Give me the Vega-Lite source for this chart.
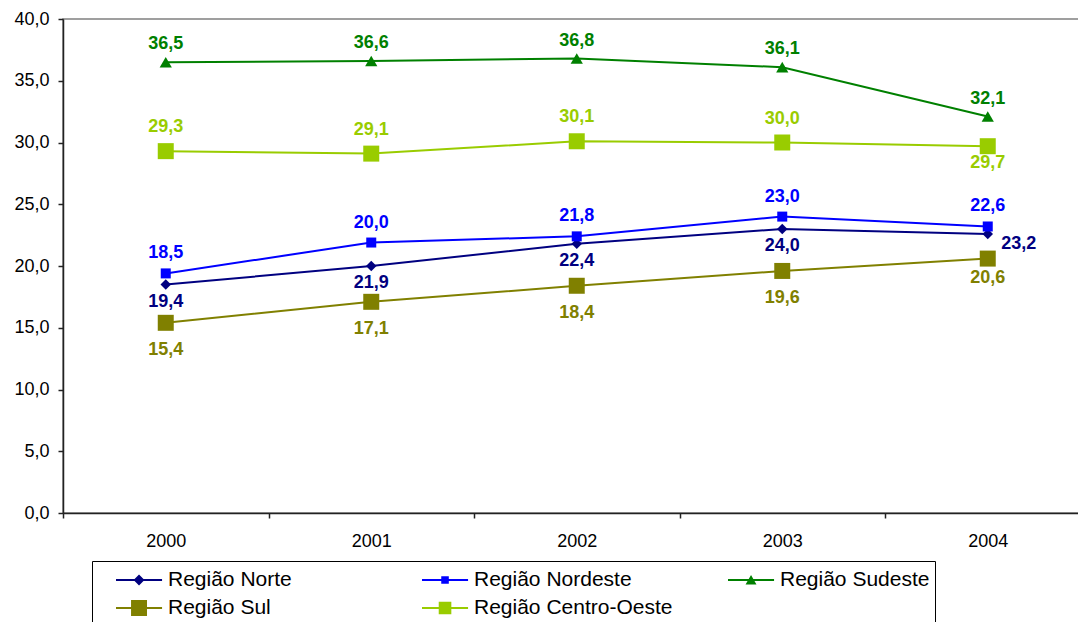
{
  "$schema": "https://vega.github.io/schema/vega-lite/v6.json",
  "width": 1027.5,
  "height": 494,
  "autosize": {"type": "none"},
  "padding": {"left": 63, "top": 19, "right": 0, "bottom": 109},
  "background": "white",
  "config": {
    "view": {"stroke": "#808080", "strokeWidth": 1.5},
    "font": "Liberation Sans"
  },
  "data": {
    "values": [
      {"year": "2000", "region": "Região Norte", "value": 18.5, "label": "19,4"},
      {"year": "2001", "region": "Região Norte", "value": 20.0, "label": "21,9"},
      {"year": "2002", "region": "Região Norte", "value": 21.8, "label": "22,4"},
      {"year": "2003", "region": "Região Norte", "value": 23.0, "label": "24,0"},
      {"year": "2004", "region": "Região Norte", "value": 22.6, "label": "23,2"},
      {"year": "2000", "region": "Região Nordeste", "value": 19.4, "label": "18,5"},
      {"year": "2001", "region": "Região Nordeste", "value": 21.9, "label": "20,0"},
      {"year": "2002", "region": "Região Nordeste", "value": 22.4, "label": "21,8"},
      {"year": "2003", "region": "Região Nordeste", "value": 24.0, "label": "23,0"},
      {"year": "2004", "region": "Região Nordeste", "value": 23.2, "label": "22,6"},
      {"year": "2000", "region": "Região Sudeste", "value": 36.5, "label": "36,5"},
      {"year": "2001", "region": "Região Sudeste", "value": 36.6, "label": "36,6"},
      {"year": "2002", "region": "Região Sudeste", "value": 36.8, "label": "36,8"},
      {"year": "2003", "region": "Região Sudeste", "value": 36.1, "label": "36,1"},
      {"year": "2004", "region": "Região Sudeste", "value": 32.1, "label": "32,1"},
      {"year": "2000", "region": "Região Sul", "value": 15.4, "label": "15,4"},
      {"year": "2001", "region": "Região Sul", "value": 17.1, "label": "17,1"},
      {"year": "2002", "region": "Região Sul", "value": 18.4, "label": "18,4"},
      {"year": "2003", "region": "Região Sul", "value": 19.6, "label": "19,6"},
      {"year": "2004", "region": "Região Sul", "value": 20.6, "label": "20,6"},
      {"year": "2000", "region": "Região Centro-Oeste", "value": 29.3, "label": "29,3"},
      {"year": "2001", "region": "Região Centro-Oeste", "value": 29.1, "label": "29,1"},
      {"year": "2002", "region": "Região Centro-Oeste", "value": 30.1, "label": "30,1"},
      {"year": "2003", "region": "Região Centro-Oeste", "value": 30.0, "label": "30,0"},
      {"year": "2004", "region": "Região Centro-Oeste", "value": 29.7, "label": "29,7"}
    ]
  },
  "encoding": {
    "x": {
      "field": "year", "type": "ordinal",
      "scale": {"type": "band", "paddingInner": 0, "paddingOuter": 0},
      "axis": {
        "title": null, "tickBand": "extent", "tickSize": 5, "labelPadding": 14,
        "labelFontSize": 18, "labelColor": "#000", "labelAngle": 0,
        "domainColor": "#222", "tickColor": "#222", "domainWidth": 1.5, "tickWidth": 1.5,
        "grid": false
      }
    },
    "y": {
      "field": "value", "type": "quantitative",
      "scale": {"domain": [0, 40], "nice": false},
      "axis": {
        "title": null, "values": [0, 5, 10, 15, 20, 25, 30, 35, 40],
        "labelExpr": "replace(format(datum.value, '.1f'), '.', ',')",
        "tickSize": 5, "labelPadding": 9, "labelFontSize": 18, "labelColor": "#000",
        "domainColor": "#222", "tickColor": "#222", "domainWidth": 1.5, "tickWidth": 1.5,
        "grid": false
      }
    },
    "color": {
      "field": "region", "type": "nominal",
      "scale": {
        "domain": ["Região Norte", "Região Nordeste", "Região Sudeste", "Região Sul", "Região Centro-Oeste"],
        "range": ["#000080", "#0000FF", "#008000", "#808000", "#99CC00"]
      },
      "legend": {
        "title": " ", "titleOrient": "left", "titlePadding": 19, "titleFontSize": 1,
        "orient": "none", "legendX": 29, "legendY": 542, "direction": "horizontal",
        "columns": 3, "gridAlign": "all", "columnPadding": 55, "rowPadding": 4,
        "padding": 5, "strokeColor": "#000", "fillColor": "white",
        "labelFontSize": 21, "labelColor": "#000", "labelLimit": 400, "labelOffset": 24,
        "symbolSize": 784, "symbolStrokeWidth": 0,
        "encode": {
          "symbols": {
            "update": {
              "shape": {"signal": "datum.value === 'Região Norte' ? 'M-1,-0.07H2.29V0.07H-1ZM0.645,-0.39L1.035,0L0.645,0.39L0.255,0Z' : datum.value === 'Região Nordeste' ? 'M-1,-0.07H2.29V0.07H-1ZM0.375,-0.27H0.915V0.27H0.375Z' : datum.value === 'Região Sudeste' ? 'M-1,-0.07H2.29V0.07H-1ZM0.645,-0.36L1.035,0.32L0.255,0.32Z' : datum.value === 'Região Sul' ? 'M-1,-0.07H2.29V0.07H-1ZM0.075,-0.57H1.215V0.57H0.075Z' : 'M-1,-0.07H2.29V0.07H-1ZM0.195,-0.45H1.095V0.45H0.195Z'"},
              "fill": {"scale": "color", "field": "value"},
              "strokeWidth": {"value": 0},
              "opacity": {"value": 1}
            }
          }
        }
      }
    }
  },
  "layer": [
    {"mark": {"type": "line", "strokeWidth": 2}},
    {
      "transform": [{"filter": "datum.region === 'Região Norte'"}],
      "mark": {"type": "point", "shape": "diamond", "filled": true, "size": 110, "opacity": 1}
    },
    {
      "transform": [{"filter": "datum.region === 'Região Nordeste'"}],
      "mark": {"type": "point", "shape": "square", "filled": true, "size": 100, "opacity": 1}
    },
    {
      "transform": [{"filter": "datum.region === 'Região Sudeste'"}],
      "mark": {"type": "point", "shape": "triangle-up", "filled": true, "size": 150, "opacity": 1}
    },
    {
      "transform": [{"filter": "datum.region === 'Região Sul' || datum.region === 'Região Centro-Oeste'"}],
      "mark": {"type": "point", "shape": "square", "filled": true, "size": 256, "opacity": 1}
    },
    {
      "transform": [{"filter": "datum.region === 'Região Sudeste'"}],
      "mark": {"type": "text", "fontWeight": "bold", "fontSize": 18, "dy": -18},
      "encoding": {"text": {"field": "label"}}
    },
    {
      "transform": [{"filter": "datum.region === 'Região Centro-Oeste' && datum.year !== '2004'"}],
      "mark": {"type": "text", "fontWeight": "bold", "fontSize": 18, "dy": -24},
      "encoding": {"text": {"field": "label"}}
    },
    {
      "transform": [{"filter": "datum.region === 'Região Centro-Oeste' && datum.year === '2004'"}],
      "mark": {"type": "text", "fontWeight": "bold", "fontSize": 18, "dy": 17},
      "encoding": {"text": {"field": "label"}}
    },
    {
      "transform": [{"filter": "datum.region === 'Região Nordeste'"}],
      "mark": {"type": "text", "fontWeight": "bold", "fontSize": 18, "dy": -20},
      "encoding": {"text": {"field": "label"}}
    },
    {
      "transform": [{"filter": "datum.region === 'Região Norte' && datum.year !== '2004'"}],
      "mark": {"type": "text", "fontWeight": "bold", "fontSize": 18, "dy": 17},
      "encoding": {"text": {"field": "label"}}
    },
    {
      "transform": [{"filter": "datum.region === 'Região Norte' && datum.year === '2004'"}],
      "mark": {"type": "text", "fontWeight": "bold", "fontSize": 18, "dx": 31, "dy": 10},
      "encoding": {"text": {"field": "label"}}
    },
    {
      "transform": [{"filter": "datum.region === 'Região Sul' && datum.year !== '2004'"}],
      "mark": {"type": "text", "fontWeight": "bold", "fontSize": 18, "dy": 27},
      "encoding": {"text": {"field": "label"}}
    },
    {
      "transform": [{"filter": "datum.region === 'Região Sul' && datum.year === '2004'"}],
      "mark": {"type": "text", "fontWeight": "bold", "fontSize": 18, "dy": 19},
      "encoding": {"text": {"field": "label"}}
    }
  ]
}
